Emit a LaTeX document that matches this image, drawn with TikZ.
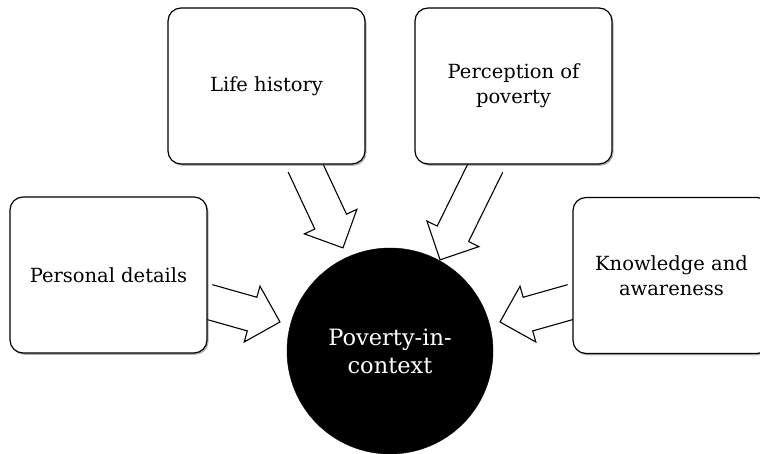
\documentclass[tikz,border=0pt]{standalone}
\usepackage{fontspec}
\setmainfont{DejaVu Serif}
\usetikzlibrary{calc,shadows,backgrounds}
\newcommand\fatarrow[2]{%
  \draw[fatarrowstyle] let \p1=(#1), \p2=(#2),
     \n1={atan2(\y2-\y1,\x2-\x1)}, \n2={veclen(\x2-\x1,\y2-\y1)} in
     [shift={(\p1)}, rotate=\n1]
     (0,-17.5) -- (\n2-29,-17.5) -- (\n2-29,-29) -- (\n2,0) -- (\n2-29,29) -- (\n2-29,17.5) -- (0,17.5);%
}
\tikzset{
  box/.style={draw=black, line width=1.2pt, rounded corners=13pt, fill=white,
    minimum width=197pt, minimum height=156pt, align=center, inner sep=4pt,
    font=\fontsize{19.5}{24.5}\selectfont,
    drop shadow={shadow xshift=1.5pt, shadow yshift=-1.8pt, fill=black!60, opacity=0.5}},
  hub/.style={circle, fill=black, draw=black, minimum size=206pt, inner sep=0pt,
    text=white, align=center, font=\fontsize{22.5}{28}\selectfont},
  fatarrowstyle/.style={draw=black, line width=1.1pt, fill=white, line join=miter}
}
\begin{document}
\begin{tikzpicture}[x=1pt,y=1pt]
\useasboundingbox (0,0) rectangle (760,454);
\clip (0,0) rectangle (760,454);
\node[box] (life) at (266.5,368) {Life history};
\node[box] (perc) at (513.5,368) {Perception of\\poverty};
\node[box] (pers) at (108.5,179) {Personal details};
\node[box] (know) at (671.5,178.5) {Knowledge and\\awareness};
\node[hub] (hub) at (390,103) {Poverty-in-\\context};
\coordinate (lifetail) at ($(life.south)+(37.5,0)$);
\coordinate (perctail) at ($(perc.south)+(-26.5,0)$);
\coordinate (perstail) at ($(pers.east)+(0,-26.5)$);
\coordinate (knowtail) at ($(know.west)+(0,-26)$);
\coordinate (lifetip) at ($(hub.center)+(-47,103)$);
\coordinate (perctip) at ($(hub.center)+(50,91)$);
\coordinate (perstip) at ($(hub.center)+(-110,29)$);
\coordinate (knowtip) at ($(hub.center)+(110,29)$);
\begin{pgfonlayer}{background}
\fatarrow{lifetail}{lifetip}
\fatarrow{perctail}{perctip}
\fatarrow{perstail}{perstip}
\fatarrow{knowtail}{knowtip}
\end{pgfonlayer}
\end{tikzpicture}
\end{document}
